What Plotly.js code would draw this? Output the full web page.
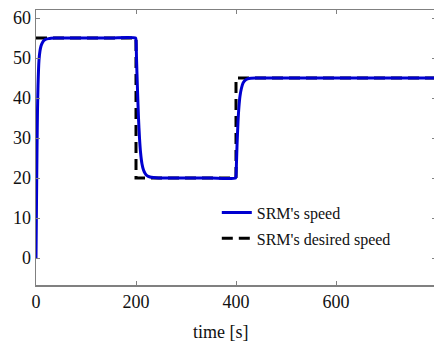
<!DOCTYPE html>
<html>
<head>
<meta charset="utf-8">
<script src="https://cdn.plot.ly/plotly-3.0.1.min.js"></script>
<style>
html,body{margin:0;padding:0;background:#fff;overflow:hidden;}
#chart{width:436px;height:343px;}
#chart text{font-family:"Liberation Serif","DejaVu Serif",serif !important;}
</style>
</head>
<body>
<div id="chart"></div>
<script>
// Measured speed (SRM's speed)
var speedTime = [0, 1, 2, 3, 4, 6, 8, 10, 13, 16, 20, 25, 30, 38, 45, 100, 150, 199,
                 200, 201, 203, 205, 207, 209, 212, 215, 218, 222, 228, 235, 245, 300, 350, 399,
                 400, 401, 402, 404, 406, 408, 411, 414, 418, 423, 430, 440, 500, 600, 700, 800];
var speedValue = [0, 14, 27, 37, 43, 49.5, 51.8, 53, 53.9, 54.4, 54.7, 54.85, 54.95, 55, 55, 55, 55, 55,
                  54.5, 50, 42, 35, 30, 26.5, 23.5, 22, 21.2, 20.6, 20.25, 20.1, 20, 20, 20, 20,
                  20.5, 24, 28, 34, 38, 40.5, 42.5, 43.7, 44.4, 44.8, 44.95, 45, 45, 45, 45, 45];
// Desired speed (reference)
var desiredTime = [0, 200, 200, 400, 400, 800];
var desiredValue = [55, 55, 20, 20, 45, 45];

var xTicks = [0, 200, 400, 600, 800];
var yTicks = [0, 10, 20, 30, 40, 50, 60];
var legendNames = ["SRM's speed", "SRM's desired speed"];
var xTitle = "time [s]";

var serif = 'Liberation Serif';

var traces = [
  {
    x: desiredTime, y: desiredValue, type: 'scatter', mode: 'lines',
    name: legendNames[1], legendgroup: 'b', legendrank: 2,
    line: {color: '#000000', width: 3, dash: '11px,6px'}
  },
  {
    x: speedTime, y: speedValue, type: 'scatter', mode: 'lines',
    name: legendNames[0], legendgroup: 'a', legendrank: 1,
    line: {color: '#0000d0', width: 3, shape: 'spline', smoothing: 0.6}
  }
];

var axisCommon = {
  showgrid: false, zeroline: false,
  showline: true, linecolor: '#808080', linewidth: 1.5,
  mirror: 'ticks', ticks: 'inside', ticklen: 4, tickcolor: '#808080', tickwidth: 1,
  tickfont: {family: serif, size: 18, color: '#111'}
};

var layout = {
  width: 436, height: 343,
  margin: {l: 36, r: 0, t: 10, b: 58},
  paper_bgcolor: '#ffffff', plot_bgcolor: '#ffffff',
  font: {family: serif},
  showlegend: true,
  legend: {
    x: 0.452, xanchor: 'left', y: 0.325, yanchor: 'top',
    bgcolor: 'rgba(0,0,0,0)', borderwidth: 0,
    traceorder: 'grouped', tracegroupgap: 2,
    font: {family: serif, size: 16, color: '#111'},
    itemwidth: 30
  },
  xaxis: Object.assign({}, axisCommon, {
    range: [0, 800], tickvals: xTicks, ticktext: xTicks.map(String)
  }),
  yaxis: Object.assign({}, axisCommon, {
    range: [-6.75, 62], tickvals: yTicks, ticktext: yTicks.map(String)
  }),
  annotations: [{
    text: xTitle, xref: 'paper', yref: 'paper',
    x: (221 - 36) / 400, y: -0.17, xanchor: 'center', yanchor: 'middle',
    showarrow: false, font: {family: serif, size: 18, color: '#111'}
  }]
};

Plotly.newPlot('chart', traces, layout, {displayModeBar: false, staticPlot: true});
</script>
</body>
</html>
